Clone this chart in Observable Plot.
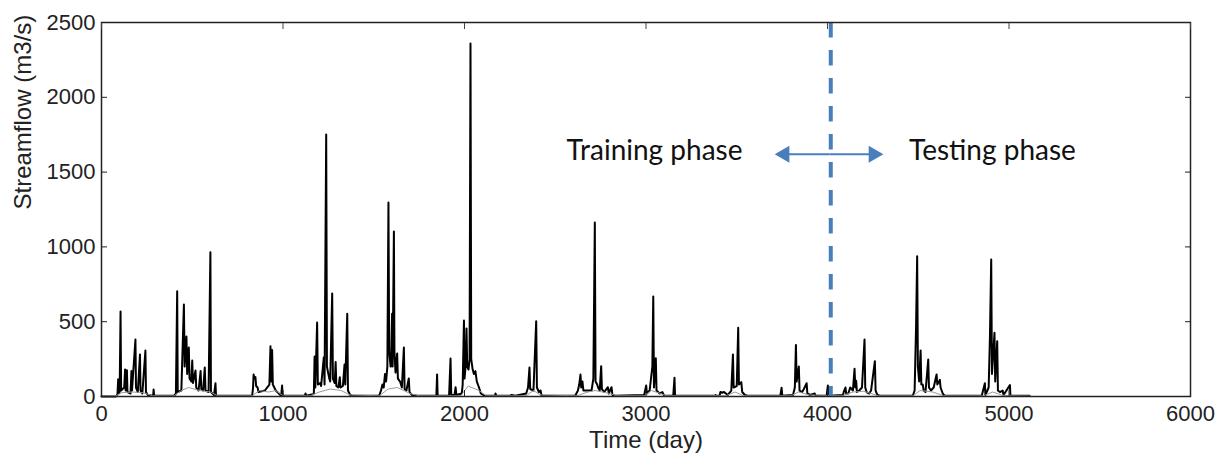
<!DOCTYPE html>
<html>
<head>
<meta charset="utf-8">
<script src="https://cdn.jsdelivr.net/npm/d3@7"></script>
<script src="https://cdn.jsdelivr.net/npm/@observablehq/plot@0.6"></script>
<style>
  html, body { margin: 0; padding: 0; background: #fff; }
  #chart svg { display: block; }
</style>
</head>
<body>
<div id="chart"></div>
<script>
// Observed streamflow (black): day and flow (m3/s)
const obsDay = [0,80,88,92,95,100,105,108,125,130,133,140,143,160,165,168,187,190,200,212,215,225,242,245,255,285,287,290,
  400,410,417,420,440,454,458,468,472,481,485,495,500,504,518,522,535,546,550,560,569,573,590,600,603,620,628,631,
  830,835,838,842,848,852,860,865,900,925,931,935,940,944,960,990,995,998,1120,1124,1127,
  1165,1170,1174,1178,1188,1192,1205,1210,1225,1229,1238,1242,1255,1260,1271,1275,1285,1290,1294,1305,1313,1317,1330,1339,1343,1354,1358,1370,1380,
  1530,1540,1548,1555,1562,1568,1575,1581,1585,1593,1596,1601,1604,1611,1614,1620,1629,1633,1645,1655,1666,1670,1680,1693,1697,1710,1740,
  1845,1849,1852,1915,1923,1927,1945,1951,1955,1985,1990,1997,2000,2006,2011,2015,2022,2028,2033,2037,2045,2052,2060,2068,2080,2090,2110,
  2168,2171,2175,2250,2260,2280,2340,2350,2358,2362,2380,2395,2399,2410,2419,2425,
  2610,2625,2632,2639,2643,2650,2655,2700,2710,2718,2722,2731,2736,2745,2753,2757,2770,2790,2795,2810,2815,2830,
  2990,3001,3005,3020,3035,3040,3044,3054,3058,3075,3090,3100,3150,3157,3160,
  3380,3383,3386,3405,3410,3420,3430,3440,3450,3470,3479,3483,3500,3508,3512,3525,3530,3545,3560,
  3740,3747,3751,3810,3820,3826,3830,3842,3846,3860,3870,3885,3889,3905,3930,3935,3995,4002,4006,
  4085,4092,4099,4103,4115,4125,4140,4149,4153,4158,4162,4175,4190,4204,4208,4215,4230,4240,4261,4265,4275,4290,
  4470,4480,4488,4494,4498,4505,4513,4517,4525,4530,4540,4555,4559,4570,4585,4601,4605,4619,4623,4635,4645,
  4850,4867,4870,4888,4895,4902,4906,4920,4924,4935,4939,4950,4965,4970,5005,5008,5113];
const obsFlow = [0,0,15,115,20,30,568,40,60,180,40,175,30,20,170,40,381,60,30,280,40,20,307,30,10,5,47,5,
  5,20,704,30,40,615,200,401,150,327,120,100,240,90,174,60,40,170,50,40,194,40,30,965,30,10,89,5,
  5,60,147,120,130,70,60,30,40,80,336,100,310,80,40,5,73,5,5,20,5,
  15,20,267,60,494,80,90,70,263,80,1751,200,120,100,688,120,90,230,70,60,129,60,70,214,80,553,40,10,5,
  5,40,80,60,150,100,200,1297,300,200,250,553,200,1103,300,160,287,120,100,60,327,50,40,120,30,10,5,
  5,147,5,5,254,10,10,62,10,20,80,508,120,200,454,200,180,250,2360,250,180,150,170,100,60,20,5,
  5,20,5,5,10,5,20,60,194,50,40,503,60,30,40,5,
  5,40,80,147,60,100,40,40,120,1163,100,80,60,40,203,50,30,62,20,62,10,5,
  10,73,20,40,200,668,60,256,40,20,30,5,5,125,5,
  5,10,5,5,30,25,30,20,10,40,281,60,70,459,80,96,30,10,5,
  5,58,5,10,60,345,100,200,40,30,50,89,20,10,20,5,5,73,5,
  10,40,60,20,20,60,40,185,60,105,30,40,60,381,60,30,20,40,236,40,10,5,
  5,40,468,938,200,100,307,80,80,40,30,247,60,40,60,147,80,111,60,20,5,
  5,89,10,60,400,916,150,426,100,370,40,30,40,10,76,5,5];

// Simulated / base flow (grey)
const simDay  = [0,80,110,170,230,280,400,440,480,540,600,640,830,870,920,960,1000,1150,1200,1260,1320,1370,
  1530,1580,1630,1700,1750,1980,2020,2080,2120,2340,2380,2420,2620,2680,2720,2800,2840,2990,3030,3080,3110,
  3440,3490,3540,3800,3840,3900,4080,4140,4200,4280,4470,4510,4580,4640,4860,4910,4960,5000,5113];
const simFlow = [0,5,25,30,25,5,5,40,60,40,30,5,5,40,30,40,5,5,30,50,40,10,
  5,50,60,20,5,5,70,40,5,5,40,10,5,30,40,20,5,5,40,20,5,
  5,30,5,5,30,10,5,30,35,5,5,40,30,5,5,30,10,5,3];

const xTicks = [0,1000,2000,3000,4000,5000,6000];
const yTicks = [0,500,1000,1500,2000,2500];
const xTitle = ["Time (day)"];
const yTitle = ["Streamflow (m3/s)"];
const splitDay = [4018];
const phaseLabels = ["Training phase", "Testing phase"];
const phaseLabelDay = [3047, 4909];
const phaseLabelFlow = [1640, 1640];
const arrowFrom = [4011, 4011];
const arrowTo = [3763, 4254];
const arrowFlow = [1620, 1620];

const obs = obsDay.map((d, i) => ({day: d, flow: obsFlow[i]}));
const sim = simDay.map((d, i) => ({day: d, flow: simFlow[i]}));
const labels = phaseLabels.map((t, i) => ({text: t, day: phaseLabelDay[i], flow: phaseLabelFlow[i]}));
const arrows = arrowTo.map((d, i) => ({x1: arrowFrom[i], x2: d, y: arrowFlow[i], rot: i === 0 ? -90 : 90}));

const blue = "#4a7ebb";
const tickFont = "Liberation Sans, Arial, Helvetica, sans-serif";
const fmt = d3.format("d");

const chart = Plot.plot({
  width: 1230,
  height: 454,
  marginLeft: 101,
  marginRight: 40,
  marginTop: 22,
  marginBottom: 58,
  style: {fontFamily: tickFont, background: "#fff"},
  x: {domain: [0, 6000]},
  y: {domain: [0, 2500]},
  marks: [
    Plot.lineY(obs, {x: "day", y: "flow", stroke: "#000", strokeWidth: 2}),
    Plot.lineY(sim, {x: "day", y: "flow", stroke: "#9a9a9a", strokeWidth: 1}),
    Plot.ruleX(splitDay, {stroke: blue, strokeWidth: 4, strokeDasharray: "15.5,12.5"}),
    Plot.link(arrows, {x1: "x1", x2: "x2", y1: "y", y2: "y", stroke: blue, strokeWidth: 2}),
    Plot.dot(arrows, {x: "x2", y: "y", symbol: "triangle", r: 6.3, fill: blue, stroke: null, rotate: "rot"}),
    Plot.text(labels, {x: "day", y: "flow", text: "text", fontSize: 28, fontFamily: "Lato, Carlito, sans-serif", fill: "#111"}),
    Plot.frame({stroke: "#222", strokeWidth: 1.5}),
    // inward ticks on all four sides
    Plot.axisX(xTicks, {anchor: "bottom", tickSize: 6, dy: -6, text: null, label: null, stroke: "#222"}),
    Plot.axisX(xTicks, {anchor: "top", tickSize: 6, dy: 6, text: null, label: null, stroke: "#444"}),
    Plot.axisY(yTicks, {anchor: "left", tickSize: 6, dx: 6, text: null, label: null, stroke: "#222"}),
    Plot.axisY(yTicks, {anchor: "right", tickSize: 6, dx: -6, text: null, label: null, stroke: "#222"}),
    // tick labels
    Plot.axisX(xTicks, {anchor: "bottom", tickSize: 0, tickPadding: 9, fontSize: 22, fill: "#222", tickFormat: fmt, label: null}),
    Plot.axisY(yTicks, {anchor: "left", tickSize: 0, tickPadding: 6, fontSize: 22, fill: "#222", tickFormat: fmt, label: null}),
    // axis titles
    Plot.text(xTitle, {frameAnchor: "bottom", dy: 51, fontSize: 24, fill: "#222", text: d => d}),
    Plot.text(yTitle, {frameAnchor: "left", dx: -78, rotate: -90, fontSize: 24, fill: "#222", text: d => d})
  ]
});
document.getElementById("chart").appendChild(chart);
</script>
</body>
</html>
